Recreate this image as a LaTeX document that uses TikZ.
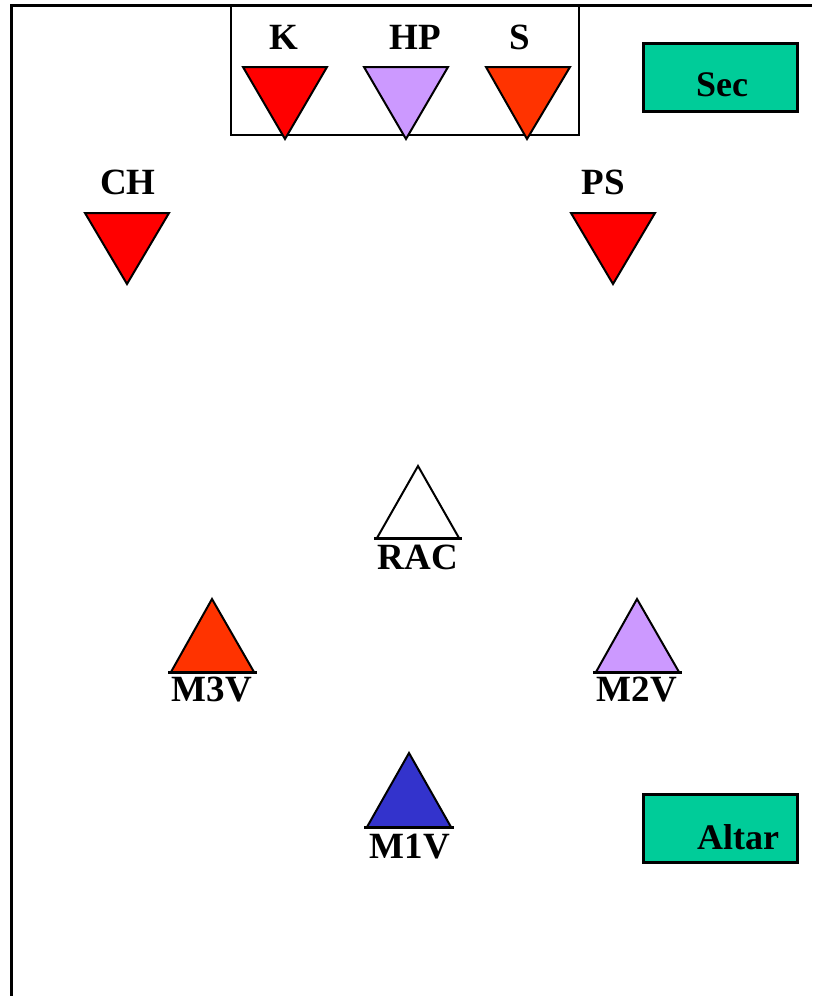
\documentclass[tikz,border=0pt]{standalone}
\usepackage{fontspec}
\setmainfont{Liberation Serif}
\definecolor{kred}{HTML}{FF0000}
\definecolor{sred}{HTML}{FF3300}
\definecolor{lil}{HTML}{CC99FF}
\definecolor{grn}{HTML}{00CC99}
\definecolor{blu}{HTML}{3333CC}
\tikzset{
  lbl/.style={font=\fontsize{37}{37}\selectfont\bfseries, inner sep=0pt},
  boxlbl/.style={font=\fontsize{36}{36}\selectfont\bfseries, inner sep=0pt},
  tri/.style={draw=black, line width=2pt, line join=miter},
  basel/.style={line width=3pt},
  gbox/.style={draw=black, line width=3pt, fill=grn},
}
\begin{document}
\begin{tikzpicture}[x=1pt,y=-1pt]
\useasboundingbox (0,0) rectangle (812,996);
\fill[white] (0,0) rectangle (812,996);
% frame
\draw[line width=3pt] (11.5,996) -- (11.5,5.5) -- (812,5.5);
% top box
\draw[line width=2pt] (231,6) rectangle (579,135);
\draw[tri, fill=kred] (243,67) -- (327,67) -- (285,139) -- cycle;
\draw[tri, fill=lil] (364,67) -- (448,67) -- (406,139) -- cycle;
\draw[tri, fill=sred] (486,67) -- (570,67) -- (527,139) -- cycle;
\node[lbl] (k) at (284,37) {K};
\node[lbl] (hp) at (415,37) {HP};
\node[lbl] (s) at (520,37) {S};
% Sec
\draw[gbox] (643,43) rectangle (797,111);
\node[boxlbl] (sec) at (722,85) {Sec};
% CH, PS
\draw[tri, fill=kred] (85,213) -- (169,213) -- (127,284) -- cycle;
\node[lbl] (ch) at (128,182) {CH};
\draw[tri, fill=kred] (571,213) -- (655,213) -- (613,284) -- cycle;
\node[lbl] (ps) at (603,182) {PS};
% RAC
\draw[tri, fill=white] (377,538) -- (418,466) -- (459,538);
\draw[basel] (374,538) -- (462,538);
\node[lbl] (rac) at (418,557) {RAC};
% M3V
\draw[tri, fill=sred] (171,672) -- (212,599) -- (254,672);
\draw[basel] (168,672) -- (257,672);
\node[lbl] (m3v) at (212,690) {M3V};
% M2V
\draw[tri, fill=lil] (596,672) -- (637,599) -- (679,672);
\draw[basel] (593,672) -- (682,672);
\node[lbl] (m2v) at (637,690) {M2V};
% M1V
\draw[tri, fill=blu] (367,827) -- (409,753) -- (451,827);
\draw[basel] (364,827) -- (454,827);
\node[lbl] (m1v) at (410,847) {M1V};
% Altar
\draw[gbox] (643,794) rectangle (797,862);
\node[boxlbl] (altar) at (738,837) {Altar};
\end{tikzpicture}
\end{document}
